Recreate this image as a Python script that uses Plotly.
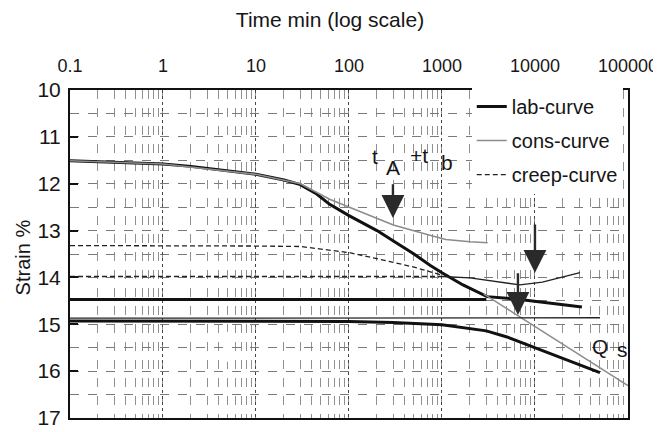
import numpy as np
import plotly.graph_objects as go

# ---------------- data (time in minutes, strain in %) ----------------
lab1_t = [0.1, 0.5, 1, 2, 5, 10, 20, 30, 45, 62, 100, 141, 200, 328, 500, 743, 1000, 1683, 3050, 6900, 15000, 32000]
lab1_s = [11.51, 11.55, 11.58, 11.63, 11.72, 11.8, 11.92, 12.02, 12.22, 12.44, 12.68, 12.84, 13.0, 13.27, 13.5, 13.74, 13.9, 14.16, 14.41, 14.47, 14.55, 14.63]

lab2_t = [0.1, 1, 10, 100, 1000, 3000]
lab2_s = [14.47, 14.47, 14.47, 14.47, 14.47, 14.47]

lab3_t = [0.1, 1, 10, 100, 300, 1000, 3000, 5000, 11300, 20000, 50000]
lab3_s = [14.93, 14.93, 14.93, 14.94, 14.96, 15.01, 15.14, 15.27, 15.54, 15.73, 16.03]

cons1_t = [0.1, 1, 10, 30, 62, 141, 300, 740, 1100, 2000, 3100]
cons1_s = [11.51, 11.58, 11.8, 12.0, 12.33, 12.61, 12.88, 13.1, 13.19, 13.24, 13.26]

cons2_t = [2800, 10000, 30000, 100000]
cons2_s = [14.35, 15.05, 15.65, 16.31]

creep1_t = [0.1, 1, 10, 30, 62, 100, 200, 330, 500, 750, 1000]
creep1_s = [13.32, 13.32, 13.33, 13.34, 13.41, 13.47, 13.6, 13.7, 13.78, 13.88, 13.95]

creep2_t = [0.1, 1, 10, 100, 1000]
creep2_s = [13.98, 13.98, 13.98, 13.98, 13.98]

thin2_t = [1000, 2000, 6900, 12000, 30500]
thin2_s = [13.98, 14.01, 14.16, 14.1, 13.9]

thin3_t = [0.1, 1, 10, 100, 1000, 10000, 50000]
thin3_s = [14.87, 14.87, 14.87, 14.87, 14.87, 14.86, 14.86]

x_tick_vals = [0.1, 1, 10, 100, 1000, 10000, 100000]
x_tick_text = ["0.1", "1", "10", "100", "1000", "10000", "100000"]
y_tick_vals = [10, 11, 12, 13, 14, 15, 16, 17]

FONT = "Liberation Sans, Arial, sans-serif"
INK = "#161616"

fig = go.Figure()

lab_style = dict(color="#111111", width=3)
cons_style = dict(color="#8c8c8c", width=1.6)
creep_style = dict(color="#222222", width=1.3, dash="5px,3px")
thin_style = dict(color="#222222", width=1.3)

def add(t, s, line, name, group, show):
    fig.add_trace(go.Scatter(x=t, y=s, mode="lines", line=line, name=name,
                             legendgroup=group, showlegend=show, hoverinfo="skip"))

add(lab1_t, lab1_s, lab_style, "lab-curve", "lab", True)
add(lab2_t, lab2_s, lab_style, "lab-curve", "lab", False)
add(lab3_t, lab3_s, lab_style, "lab-curve", "lab", False)
add(cons1_t, cons1_s, cons_style, "cons-curve", "cons", True)
add(cons2_t, cons2_s, cons_style, "cons-curve", "cons", False)
add(creep1_t, creep1_s, creep_style, "creep-curve", "creep", True)
add(creep2_t, creep2_s, creep_style, "creep-curve", "creep", False)
add(thin2_t, thin2_s, thin_style, "creep-curve", "creep", False)
add(thin3_t, thin3_s, thin_style, "creep-curve", "creep", False)

# arrows (tip x,y ; tail ax,ay) in axis units (log10 for x)
arrows = [(np.log10(297), 12.73, 11.98), (4.0, 13.9, 12.84), (3.817, 14.8, 13.88)]
for xa, tip, tail in arrows:
    fig.add_annotation(x=xa, y=tip, ax=xa, ay=tail, xref="x", yref="y", axref="x", ayref="y",
                       showarrow=True, arrowhead=2, arrowsize=1.9, arrowwidth=2.4,
                       arrowcolor="#2a2a2a", standoff=0, text="")

labels = [("t", 2.28, 11.41), ("A", 2.473, 11.66), ("+t", 2.753, 11.39), ("b", 3.054, 11.54),
          ("Q", 4.70, 15.48), ("s", 4.946, 15.54)]

fig.add_shape(type="rect", xref="x", yref="y", x0=4.57, x1=5.02, y0=15.16, y1=15.8,
              fillcolor="white", line=dict(width=0), layer="above")

for txt, xa, ya in labels:
    fig.add_annotation(x=xa, y=ya, xref="x", yref="y", text=txt, showarrow=False,
                       font=dict(family=FONT, size=21, color=INK))

# y-axis title as rotated text
fig.add_annotation(x=-0.084, y=0.49, xref="paper", yref="paper", text="Strain %", textangle=-90,
                   showarrow=False, xanchor="center", yanchor="middle",
                   font=dict(family=FONT, size=20, color=INK))

# the page body adds an 8px offset; the figure is sized to fill the rest of the window
fig.update_layout(
    width=653, height=424,
    margin=dict(l=62, r=33, t=82, b=14, autoexpand=False),
    paper_bgcolor="white", plot_bgcolor="white",
    font=dict(family=FONT, size=20, color=INK),
    showlegend=True,
    legend=dict(x=0.72, y=1.009, xanchor="left", yanchor="top", bgcolor="white",
                font=dict(family=FONT, size=20, color=INK), tracegroupgap=5,
                traceorder="grouped", itemwidth=30),
    title=dict(text="Time min (log scale)", x=(330 - 8) / 653, xanchor="center", y=1 - 12 / 424,
               yanchor="middle", font=dict(family=FONT, size=21, color=INK)),
)

fig.update_xaxes(
    type="log", range=[-1, 5.0005], side="top", automargin=False,
    tickvals=x_tick_vals, ticktext=x_tick_text, ticks="", ticklabelstandoff=9,
    tickfont=dict(family=FONT, size=18, color=INK),
    showgrid=True, gridcolor="#444444", griddash="dot", gridwidth=1,
    minor=dict(dtick="D1", showgrid=True, gridcolor="#909090", griddash="dash", gridwidth=1.2),
    showline=True, linecolor="#111111", linewidth=2, mirror=True, zeroline=False,
)
fig.update_yaxes(
    range=[17, 10], tickvals=y_tick_vals, ticks="inside", ticklen=8, tickwidth=1.5, tickcolor="#111111",
    automargin=False,
    tickfont=dict(family=FONT, size=21, color=INK), ticklabelstandoff=3,
    showgrid=True, gridcolor="#7a7a7a", griddash="dash", gridwidth=1,
    minor=dict(dtick=0.5, showgrid=True, gridcolor="#7a7a7a", griddash="dash", gridwidth=1),
    showline=True, linecolor="#111111", linewidth=2, mirror=True, zeroline=False,
)

fig.write_html("out.html")
